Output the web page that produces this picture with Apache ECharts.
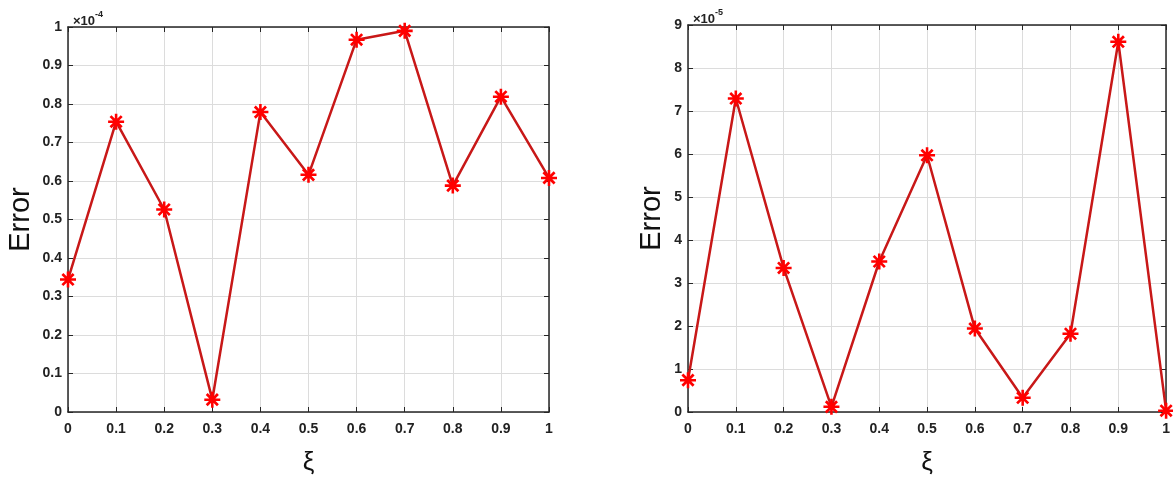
<!DOCTYPE html>
<html>
<head>
<meta charset="utf-8">
<script src="https://cdn.jsdelivr.net/npm/echarts@6/dist/echarts.min.js"></script>
<style>
html,body{margin:0;padding:0;background:#fff;}
#c{width:1173px;height:481px;}
</style>
</head>
<body>
<div id="c"></div>
<script>
// Data (x = ξ, y in units of the axis multiplier)
const xi = [0, 0.1, 0.2, 0.3, 0.4, 0.5, 0.6, 0.7, 0.8, 0.9, 1];
const errLeft = [0.344, 0.754, 0.526, 0.032, 0.779, 0.616, 0.967, 0.990, 0.588, 0.819, 0.608]; // ×10^-4
const errRight = [0.74, 7.29, 3.35, 0.12, 3.50, 5.97, 1.94, 0.33, 1.82, 8.61, 0.03];       // ×10^-5
const leftExp = '-4';
const rightExp = '-5';
const xLabel = 'ξ';
const yLabel = 'Error';

const FONT = '"Liberation Sans", Arial, sans-serif';
const AX = '#262626';
const STAR = 'path://M42 0L58 0L58 100L42 100Z M0 42L100 42L100 58L0 58Z M9 21L21 9L91 79L79 91Z M79 9L91 21L21 91L9 79Z';

function pairs(xs, ys){ return xs.map((x,i)=>[x, ys[i]]); }

const chart = echarts.init(document.getElementById('c'), null, {renderer:'canvas'});

const grids = [
  {left:68, top:27, width:481, height:390},
  {left:688, top:25, width:479, height:391}
];

function xAxes(gi){
  return [
    {gridIndex:gi, type:'value', min:0, max:1, interval:0.1, position:'bottom',
     name:xLabel, nameLocation:'middle', nameGap:38,
     nameTextStyle:{fontFamily:FONT, fontSize:26, color:'#111'},
     axisLine:{show:true, onZero:false, lineStyle:{color:AX, width:1.5}},
     axisTick:{show:true, inside:true, length:5, lineStyle:{color:AX}},
     axisLabel:{fontFamily:FONT, fontWeight:'bold', fontSize:14, color:'#222', margin:10,
       formatter:v=>String(Math.round(v*10)/10)},
     splitLine:{show:true, lineStyle:{color:'#dcdcdc', width:1}}},
    {gridIndex:gi, type:'value', min:0, max:1, interval:0.1, position:'top',
     axisLine:{show:true, onZero:false, lineStyle:{color:AX, width:1.5}},
     axisTick:{show:true, inside:true, length:5, lineStyle:{color:AX}},
     axisLabel:{show:false}, splitLine:{show:false}}
  ];
}
function yAxes(gi, max, interval, gap, fmt){
  return [
    {gridIndex:gi, type:'value', min:0, max:max, interval:interval, position:'left',
     name:yLabel, nameLocation:'middle', nameGap:gap, nameRotate:90,
     nameTextStyle:{fontFamily:FONT, fontSize:29, color:'#111'},
     axisLine:{show:true, onZero:false, lineStyle:{color:AX, width:1.5}},
     axisTick:{show:true, inside:true, length:5, lineStyle:{color:AX}},
     axisLabel:{fontFamily:FONT, fontWeight:'bold', fontSize:14, color:'#222', margin:6, formatter:fmt},
     splitLine:{show:true, lineStyle:{color:'#dcdcdc', width:1}}},
    {gridIndex:gi, type:'value', min:0, max:max, interval:interval, position:'right',
     axisLine:{show:true, onZero:false, lineStyle:{color:AX, width:1.5}},
     axisTick:{show:true, inside:true, length:5, lineStyle:{color:AX}},
     axisLabel:{show:false}, splitLine:{show:false}}
  ];
}

function series(xIdx, yIdx, data){
  return {type:'line', xAxisIndex:xIdx, yAxisIndex:yIdx, data:data,
    lineStyle:{color:'#c81818', width:2.5},
    itemStyle:{color:'#ff0000'},
    symbol:STAR, symbolSize:16, showAllSymbol:true, animation:false, z:5};
}

const option = {
  animation:false,
  backgroundColor:'#fff',
  grid: grids,
  xAxis: [...xAxes(0), ...xAxes(1)],
  yAxis: [...yAxes(0, 1, 0.1, 33, v=>String(Math.round(v*10)/10)),
          ...yAxes(1, 9, 1, 22, v=>String(Math.round(v)))],
  title: [
    {left:68, top:5, text:'{a|×10}{b|'+leftExp+'}',
     textStyle:{rich:{a:{fontFamily:FONT, fontSize:13, color:'#222', verticalAlign:'bottom', lineHeight:18},
                      b:{fontFamily:FONT, fontSize:9, color:'#222', verticalAlign:'top', lineHeight:10}}}},
    {left:688, top:3, text:'{a|×10}{b|'+rightExp+'}',
     textStyle:{rich:{a:{fontFamily:FONT, fontSize:13, color:'#222', verticalAlign:'bottom', lineHeight:18},
                      b:{fontFamily:FONT, fontSize:9, color:'#222', verticalAlign:'top', lineHeight:10}}}}
  ],
  series: [
    series(0, 0, pairs(xi, errLeft)),
    series(2, 2, pairs(xi, errRight))
  ]
};
chart.setOption(option);
</script>
</body>
</html>
